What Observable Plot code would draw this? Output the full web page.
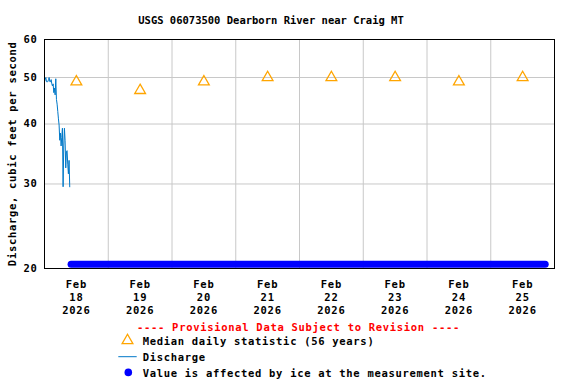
<!DOCTYPE html>
<html><head><meta charset="utf-8">
<script src="https://cdn.jsdelivr.net/npm/d3@7"></script>
<script src="https://cdn.jsdelivr.net/npm/@observablehq/plot@0.6"></script>
<style>
body{margin:0;background:#fff}
svg text{letter-spacing:0.7px}
</style>
</head><body><div id="chart"></div>
<script>
const title = "USGS 06073500 Dearborn River near Craig MT";
const yLabel = "Discharge, cubic feet per second";
const medianDays = ["2026-02-18","2026-02-19","2026-02-20","2026-02-21","2026-02-22","2026-02-23","2026-02-24","2026-02-25"];
const medianValues = [49, 47, 49, 50, 50, 50, 49, 50];
const dischargeDate = "2026-02-18";
const dischargeTimes = ["00:00","00:15","00:30","00:45","01:00","01:15","01:30","01:45","02:00","02:15",
  "02:30","02:45","03:00","03:15","03:30","03:45","04:00","04:15","04:30","04:45",
  "05:00","05:15","05:30","05:45","06:00","06:15","06:30","06:45","07:00","07:15",
  "07:30","07:45","08:00","08:15","08:30","08:45","09:00","09:15","09:30"];
const dischargeValues = [49, 49.5, 50, 49, 49, 49, 49.5, 50, 49, 49,
  49.5, 48.5, 48, 48.5, 46.5, 47.5, 46, 49.7, 45, 44,
  42.5, 41, 39.8, 37, 38.3, 36, 37.5, 39.2, 29.6, 36,
  39.2, 37, 32.4, 35, 35.2, 33, 31.5, 33.6, 29.6];
const iceStart = "2026-02-18T10:00Z";
const iceEnd = "2026-02-25T20:30Z";
const iceValue = 20;
const yTicks = [20, 30, 40, 50, 60];
const yGrid = [30, 40, 50];
const xDomain = ["2026-02-18T00:00Z", "2026-02-26T00:00Z"];
const gridDays = ["2026-02-19","2026-02-20","2026-02-21","2026-02-22","2026-02-23","2026-02-24","2026-02-25"];
const tickMonth = "Feb";
const tickYear = "2026";
const tickDays = ["18","19","20","21","22","23","24","25"];
const legendNote = "---- Provisional Data Subject to Revision ----";
const legendLabels = ["Median daily statistic (56 years)", "Discharge", "Value is affected by ice at the measurement site."];

const medians = medianDays.map((d, i) => ({t: new Date(d + "T12:00Z"), v: medianValues[i]}));
const discharge = dischargeTimes.map((h, i) => ({t: new Date(`${dischargeDate}T${h}Z`), v: dischargeValues[i]}));
const ice = [{t: new Date(iceStart), v: iceValue}, {t: new Date(iceEnd), v: iceValue}];
const labelRows = tickDays.map(d => ({t: new Date(`${tickYear}-02-${d}T12:00Z`), label: `${tickMonth}\n${d}\n${tickYear}`}));
const gridDates = gridDays.map(d => new Date(d + "T00:00Z"));

const font = "DejaVu Sans Mono";
const svg = Plot.plot({
  width: 576, height: 384,
  marginLeft: 44, marginRight: 22, marginTop: 39, marginBottom: 116,
  style: {fontFamily: font, fontSize: "10.5px", fontWeight: "bold", background: "#fff", color: "#000"},
  x: {type: "utc", domain: xDomain.map(d => new Date(d)), axis: null},
  y: {type: "log", domain: [20, 60]},
  marks: [
    Plot.gridX(gridDates, {stroke: "#c8c8c8", strokeOpacity: 1}),
    Plot.gridY(yGrid, {stroke: "#c8c8c8", strokeOpacity: 1}),
    Plot.axisY(yTicks, {tickSize: 0, tickPadding: 7, tickFormat: d => String(d), label: null}),
    Plot.text(labelRows, {x: "t", text: "label", frameAnchor: "bottom", lineAnchor: "top", dy: 10, lineHeight: 1.24}),
    Plot.line(ice, {x: "t", y: "v", stroke: "#0000ff", strokeWidth: 7, strokeLinecap: "round", dy: -4.2}),
    Plot.line(discharge, {x: "t", y: "v", stroke: "#0078c8", strokeWidth: 1}),
    Plot.dot(medians, {x: "t", y: "v", symbol: "triangle", r: 4, stroke: "#ffa500", fill: "none", strokeWidth: 1.3}),
    Plot.frame({stroke: "#000"})
  ]
});
document.getElementById("chart").appendChild(svg);

const s = d3.select(svg);
const g = s.append("g").attr("font-family", font).attr("font-weight", "bold").attr("font-size", "10.5px");
g.append("text").attr("x", 271).attr("y", 20).attr("text-anchor", "middle").attr("dominant-baseline", "central")
  .style("letter-spacing", "0px").text(title);
g.append("text").attr("transform", "translate(12,153.8) rotate(-90)").attr("text-anchor", "middle")
  .attr("dominant-baseline", "central").text(yLabel);
g.append("text").attr("x", 298.5).attr("y", 326.7).attr("text-anchor", "middle").attr("dominant-baseline", "central")
  .attr("fill", "#ff0000").text(legendNote);
g.append("path").attr("d", d3.symbol(d3.symbolTriangle, Math.PI * 16)()).attr("transform", "translate(127.5,340.5)")
  .attr("fill", "none").attr("stroke", "#ffa500").attr("stroke-width", 1.3);
g.append("line").attr("x1", 118.3).attr("x2", 136.7).attr("y1", 356.7).attr("y2", 356.7).attr("stroke", "#0078c8");
g.append("circle").attr("cx", 128.3).attr("cy", 372.4).attr("r", 3.8).attr("fill", "#0000ff");
[340.5, 356.7, 372.5].forEach((y, i) => {
  g.append("text").attr("x", 142.7).attr("y", y).attr("text-anchor", "start")
    .attr("dominant-baseline", "central").text(legendLabels[i]);
});
</script>
</body></html>
